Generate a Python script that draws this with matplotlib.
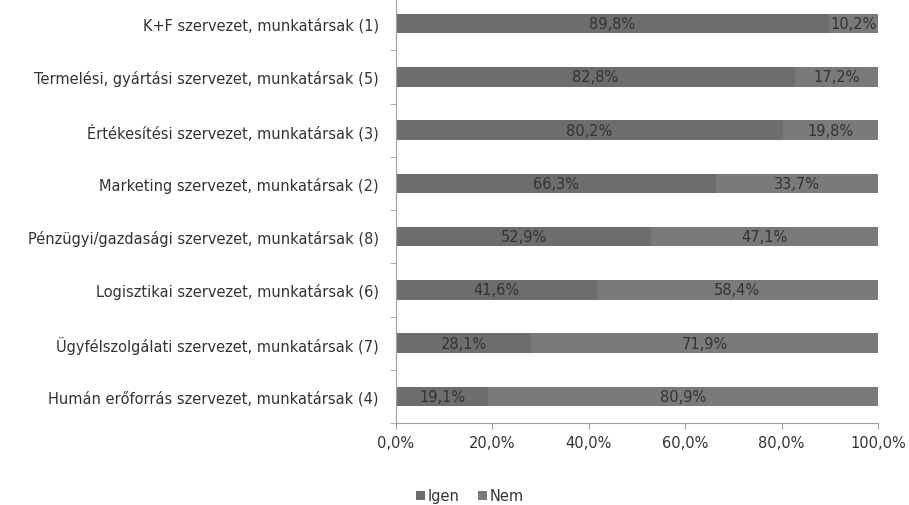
import numpy as np
import matplotlib.pyplot as plt
from matplotlib.ticker import FixedLocator

plt.rcParams['font.family'] = ['DejaVu Sans']

categories = [
    "K+F szervezet, munkatársak (1)",
    "Termelési, gyártási szervezet, munkatársak (5)",
    "Értékesítési szervezet, munkatársak (3)",
    "Marketing szervezet, munkatársak (2)",
    "Pénzügyi/gazdasági szervezet, munkatársak (8)",
    "Logisztikai szervezet, munkatársak (6)",
    "Ügyfélszolgálati szervezet, munkatársak (7)",
    "Humán erőforrás szervezet, munkatársak (4)",
]
igen = [89.8, 82.8, 80.2, 66.3, 52.9, 41.6, 28.1, 19.1]
nem = [10.2, 17.2, 19.8, 33.7, 47.1, 58.4, 71.9, 80.9]
xticks = [0, 20, 40, 60, 80, 100]

c_igen = '#6d6d6d'
c_nem = '#7a7a7a'
txt = '#333333'


def pct(v):
    return f"{v:.1f}%".replace('.', ',')


fig = plt.figure(figsize=(9.09, 5.06), dpi=100)
ax = fig.add_axes([396/909, 1-424/506, 482/909, 426/506])

y = np.arange(len(categories))[::-1]
b1 = ax.barh(y, igen, height=0.37, color=c_igen, label='Igen')
b2 = ax.barh(y, nem, left=igen, height=0.37, color=c_nem, label='Nem')

for bars, vals in ((b1, igen), (b2, nem)):
    ax.bar_label(bars, labels=[pct(v) for v in vals],
                 label_type='center', fontsize=10.5, color=txt)

ax.set_xlim(0, 100)
ax.set_ylim(-0.5, len(categories) - 0.5)
ax.set_yticks(y)
ax.set_yticklabels(categories, fontsize=10.5, color=txt)
ax.yaxis.set_minor_locator(FixedLocator(np.arange(-0.5, len(categories), 1)))
ax.tick_params(axis='y', which='major', length=0, pad=12.5)
ax.tick_params(axis='y', which='minor', length=4, color='#a0a0a0')
ax.set_xticks(xticks)
ax.set_xticklabels([pct(v) for v in xticks], fontsize=10.5, color=txt)
ax.tick_params(axis='x', length=4, color='#a0a0a0', pad=5)

for s in ('top', 'right'):
    ax.spines[s].set_visible(False)
for s in ('left', 'bottom'):
    ax.spines[s].set_color('#a0a0a0')

fig.legend(handles=[b1, b2], loc='center', bbox_to_anchor=(470/909, 1-497/506),
           ncol=2, frameon=False, fontsize=10.5, handlelength=0.6, handleheight=0.6,
           handletextpad=0.2, columnspacing=1.3, labelcolor=txt)

fig.savefig('out.png', dpi=100)
